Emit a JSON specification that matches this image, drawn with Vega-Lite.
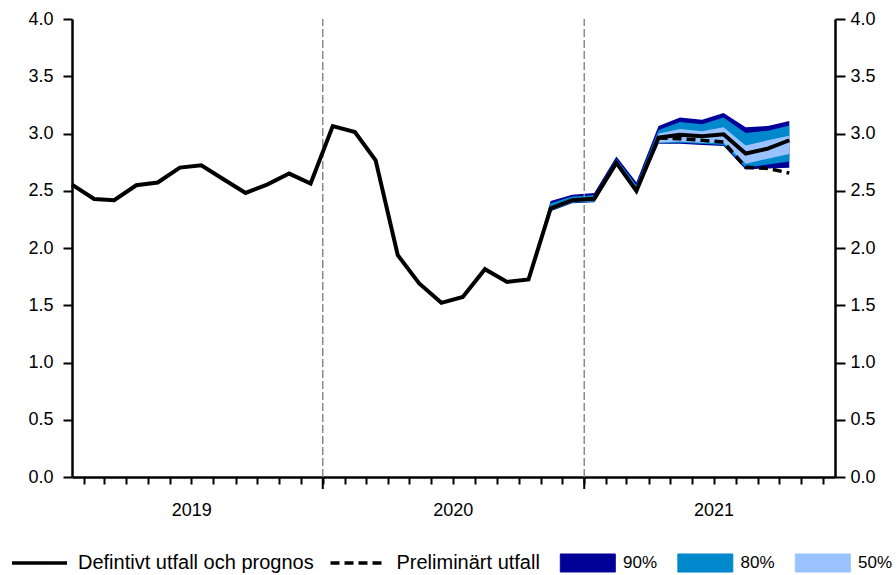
{
  "$schema": "https://vega.github.io/schema/vega-lite/v6.json",
  "width": 763,
  "height": 458,
  "padding": {"left": 10, "top": 10, "right": 0, "bottom": 0},
  "background": "white",
  "config": {
    "font": "Liberation Sans",
    "view": {"stroke": null},
    "axis": {"labelFont": "Liberation Sans", "labelFontSize": 18, "labelColor": "black", "domainColor": "black", "tickColor": "black", "grid": false, "title": null, "domainWidth": 2.5, "tickWidth": 2}
  },
  "datasets": {
    "lines": [
      {"date": "2019-01-15", "value": 2.554, "serie": "Defintivt utfall och prognos"},
      {"date": "2019-02-15", "value": 2.428, "serie": "Defintivt utfall och prognos"},
      {"date": "2019-03-15", "value": 2.417, "serie": "Defintivt utfall och prognos"},
      {"date": "2019-04-15", "value": 2.548, "serie": "Defintivt utfall och prognos"},
      {"date": "2019-05-15", "value": 2.572, "serie": "Defintivt utfall och prognos"},
      {"date": "2019-06-15", "value": 2.702, "serie": "Defintivt utfall och prognos"},
      {"date": "2019-07-15", "value": 2.723, "serie": "Defintivt utfall och prognos"},
      {"date": "2019-08-15", "value": 2.600, "serie": "Defintivt utfall och prognos"},
      {"date": "2019-09-15", "value": 2.481, "serie": "Defintivt utfall och prognos"},
      {"date": "2019-10-15", "value": 2.554, "serie": "Defintivt utfall och prognos"},
      {"date": "2019-11-15", "value": 2.650, "serie": "Defintivt utfall och prognos"},
      {"date": "2019-12-15", "value": 2.563, "serie": "Defintivt utfall och prognos"},
      {"date": "2020-01-15", "value": 3.065, "serie": "Defintivt utfall och prognos"},
      {"date": "2020-02-15", "value": 3.013, "serie": "Defintivt utfall och prognos"},
      {"date": "2020-03-15", "value": 2.766, "serie": "Defintivt utfall och prognos"},
      {"date": "2020-04-15", "value": 1.937, "serie": "Defintivt utfall och prognos"},
      {"date": "2020-05-15", "value": 1.690, "serie": "Defintivt utfall och prognos"},
      {"date": "2020-06-15", "value": 1.521, "serie": "Defintivt utfall och prognos"},
      {"date": "2020-07-15", "value": 1.573, "serie": "Defintivt utfall och prognos"},
      {"date": "2020-08-15", "value": 1.815, "serie": "Defintivt utfall och prognos"},
      {"date": "2020-09-15", "value": 1.704, "serie": "Defintivt utfall och prognos"},
      {"date": "2020-10-15", "value": 1.725, "serie": "Defintivt utfall och prognos"},
      {"date": "2020-11-15", "value": 2.345, "serie": "Defintivt utfall och prognos"},
      {"date": "2020-12-15", "value": 2.417, "serie": "Defintivt utfall och prognos"},
      {"date": "2021-01-15", "value": 2.430, "serie": "Defintivt utfall och prognos"},
      {"date": "2021-02-15", "value": 2.743, "serie": "Defintivt utfall och prognos"},
      {"date": "2021-03-15", "value": 2.498, "serie": "Defintivt utfall och prognos"},
      {"date": "2021-04-15", "value": 2.964, "serie": "Defintivt utfall och prognos"},
      {"date": "2021-05-15", "value": 2.990, "serie": "Defintivt utfall och prognos"},
      {"date": "2021-06-15", "value": 2.976, "serie": "Defintivt utfall och prognos"},
      {"date": "2021-07-15", "value": 2.993, "serie": "Defintivt utfall och prognos"},
      {"date": "2021-08-15", "value": 2.825, "serie": "Defintivt utfall och prognos"},
      {"date": "2021-09-15", "value": 2.868, "serie": "Defintivt utfall och prognos"},
      {"date": "2021-10-15", "value": 2.941, "serie": "Defintivt utfall och prognos"},
      {"date": "2021-04-15", "value": 2.960, "serie": "Preliminärt utfall"},
      {"date": "2021-05-15", "value": 2.955, "serie": "Preliminärt utfall"},
      {"date": "2021-06-15", "value": 2.940, "serie": "Preliminärt utfall"},
      {"date": "2021-07-15", "value": 2.925, "serie": "Preliminärt utfall"},
      {"date": "2021-08-15", "value": 2.705, "serie": "Preliminärt utfall"},
      {"date": "2021-09-15", "value": 2.695, "serie": "Preliminärt utfall"},
      {"date": "2021-10-15", "value": 2.655, "serie": "Preliminärt utfall"}
    ],
    "bands": [
      {"date": "2020-10-15", "serie": "90%", "lo": 1.725, "hi": 1.725},
      {"date": "2020-11-15", "serie": "90%", "lo": 2.32, "hi": 2.41},
      {"date": "2020-12-15", "serie": "90%", "lo": 2.39, "hi": 2.465},
      {"date": "2021-01-15", "serie": "90%", "lo": 2.40, "hi": 2.48},
      {"date": "2021-02-15", "serie": "90%", "lo": 2.72, "hi": 2.80},
      {"date": "2021-03-15", "serie": "90%", "lo": 2.475, "hi": 2.575},
      {"date": "2021-04-15", "serie": "90%", "lo": 2.91, "hi": 3.065},
      {"date": "2021-05-15", "serie": "90%", "lo": 2.91, "hi": 3.14},
      {"date": "2021-06-15", "serie": "90%", "lo": 2.90, "hi": 3.12},
      {"date": "2021-07-15", "serie": "90%", "lo": 2.89, "hi": 3.18},
      {"date": "2021-08-15", "serie": "90%", "lo": 2.685, "hi": 3.055},
      {"date": "2021-09-15", "serie": "90%", "lo": 2.695, "hi": 3.065},
      {"date": "2021-10-15", "serie": "90%", "lo": 2.70, "hi": 3.11},
      {"date": "2020-10-15", "serie": "80%", "lo": 1.725, "hi": 1.725},
      {"date": "2020-11-15", "serie": "80%", "lo": 2.325, "hi": 2.39},
      {"date": "2020-12-15", "serie": "80%", "lo": 2.395, "hi": 2.45},
      {"date": "2021-01-15", "serie": "80%", "lo": 2.405, "hi": 2.46},
      {"date": "2021-02-15", "serie": "80%", "lo": 2.725, "hi": 2.78},
      {"date": "2021-03-15", "serie": "80%", "lo": 2.48, "hi": 2.55},
      {"date": "2021-04-15", "serie": "80%", "lo": 2.915, "hi": 3.03},
      {"date": "2021-05-15", "serie": "80%", "lo": 2.92, "hi": 3.10},
      {"date": "2021-06-15", "serie": "80%", "lo": 2.91, "hi": 3.08},
      {"date": "2021-07-15", "serie": "80%", "lo": 2.90, "hi": 3.14},
      {"date": "2021-08-15", "serie": "80%", "lo": 2.70, "hi": 3.005},
      {"date": "2021-09-15", "serie": "80%", "lo": 2.73, "hi": 3.025},
      {"date": "2021-10-15", "serie": "80%", "lo": 2.755, "hi": 3.07},
      {"date": "2020-10-15", "serie": "50%", "lo": 1.725, "hi": 1.725},
      {"date": "2020-11-15", "serie": "50%", "lo": 2.33, "hi": 2.36},
      {"date": "2020-12-15", "serie": "50%", "lo": 2.40, "hi": 2.43},
      {"date": "2021-01-15", "serie": "50%", "lo": 2.41, "hi": 2.44},
      {"date": "2021-02-15", "serie": "50%", "lo": 2.73, "hi": 2.76},
      {"date": "2021-03-15", "serie": "50%", "lo": 2.485, "hi": 2.52},
      {"date": "2021-04-15", "serie": "50%", "lo": 2.92, "hi": 3.0},
      {"date": "2021-05-15", "serie": "50%", "lo": 2.93, "hi": 3.04},
      {"date": "2021-06-15", "serie": "50%", "lo": 2.92, "hi": 3.02},
      {"date": "2021-07-15", "serie": "50%", "lo": 2.92, "hi": 3.055},
      {"date": "2021-08-15", "serie": "50%", "lo": 2.735, "hi": 2.895},
      {"date": "2021-09-15", "serie": "50%", "lo": 2.78, "hi": 2.94},
      {"date": "2021-10-15", "serie": "50%", "lo": 2.82, "hi": 2.98}
    ],
    "years": [
      {"date": "2020-01-01"},
      {"date": "2021-01-01"}
    ]
  },
  "encoding": {
    "x": {
      "field": "date",
      "type": "temporal",
      "scale": {"type": "utc", "domain": [{"year": 2019, "month": 1, "date": 15, "utc": true}, {"year": 2021, "month": 12, "date": 18, "utc": true}]},
      "axis": {
        "title": null,
        "tickCount": {"interval": "month", "step": 1},
        "labelExpr": "utcmonth(datum.value) == 6 ? utcFormat(datum.value, '%Y') : ''",
        "labelOverlap": false,
        "labelFlush": false,
        "labelBound": false,
        "tickSize": 7,
        "labelPadding": 17,
        "grid": false
      }
    }
  },
  "layer": [
    {
      "data": {"name": "bands"},
      "transform": [{"filter": "datum.serie === '90%'"}],
      "mark": {"type": "area", "opacity": 1},
      "encoding": {
        "y": {"field": "lo", "type": "quantitative", "stack": null, "scale": {"domain": [0, 4], "nice": false, "zero": false},
          "axis": {"orient": "left", "values": [0, 0.5, 1, 1.5, 2, 2.5, 3, 3.5, 4], "format": ".1f", "tickSize": 9, "labelPadding": 10, "title": null}},
        "y2": {"field": "hi"},
        "color": {
          "field": "serie", "type": "nominal",
          "scale": {"domain": ["Defintivt utfall och prognos", "Preliminärt utfall", "90%", "80%", "50%"], "range": ["#000000", "#000000", "#000099", "#0088cc", "#99c2ff"]},
          "legend": {
            "orient": "none", "legendX": -62, "legendY": 534,
            "direction": "horizontal", "columns": 5, "title": null,
            "symbolType": "stroke", "symbolSize": 3025, "clipHeight": 20,
            "labelFontSize": 20, "labelFont": "Liberation Sans", "labelColor": "black",
            "labelOffset": 9, "labelLimit": 400, "columnPadding": 14.5,
            "symbolOpacity": 1, "symbolStrokeWidth": 3.5,
            "encode": {
              "symbols": {"update": {
                "shape": {"signal": "(indexof(['90%','80%','50%'], datum.value) >= 0 ? 'M-0.88,-0.33H1.12V0.33H-0.88Z' : 'stroke')"},
                "fill": {"signal": "(datum.value === '90%' ? '#000099' : datum.value === '80%' ? '#0088cc' : datum.value === '50%' ? '#99c2ff' : 'transparent')"},
                "stroke": {"value": "black"},
                "strokeWidth": {"signal": "(indexof(['90%','80%','50%'], datum.value) >= 0 ? 1 : 3.5)"},
                "strokeDash": {"signal": "(datum.value === 'Preliminärt utfall' ? [9, 5] : [1, 0])"},
                "opacity": {"value": 1}
              }},
              "labels": {"update": {
                "fontSize": {"signal": "(indexof(['90%','80%','50%'], datum.value) >= 0 ? 17 : 20)"}
              }}
            }
          }
        }
      }
    },
    {
      "data": {"name": "bands"},
      "transform": [{"filter": "datum.serie === '80%'"}],
      "mark": {"type": "area", "opacity": 1},
      "encoding": {
        "y": {"field": "lo", "type": "quantitative", "stack": null, "axis": null},
        "y2": {"field": "hi"},
        "color": {"field": "serie", "type": "nominal"}
      }
    },
    {
      "data": {"name": "bands"},
      "transform": [{"filter": "datum.serie === '50%'"}],
      "mark": {"type": "area", "opacity": 1},
      "encoding": {
        "y": {"field": "lo", "type": "quantitative", "stack": null, "axis": null},
        "y2": {"field": "hi"},
        "color": {"field": "serie", "type": "nominal"}
      }
    },
    {
      "data": {"name": "years"},
      "mark": {"type": "rule", "color": "#8c8c8c", "strokeWidth": 1.5, "strokeDash": [8, 3]},
      "encoding": {
        "y": {"datum": 0, "type": "quantitative", "axis": null},
        "y2": {"datum": 4}
      }
    },
    {
      "data": {"name": "years"},
      "mark": {"type": "rule", "color": "black", "strokeWidth": 2},
      "encoding": {
        "y": {"datum": -0.105, "type": "quantitative", "axis": null},
        "y2": {"datum": 0}
      }
    },
    {
      "data": {"name": "lines"},
      "transform": [{"filter": "datum.serie === 'Preliminärt utfall'"}],
      "mark": {"type": "line", "strokeWidth": 3.5, "strokeDash": [9, 5]},
      "encoding": {
        "y": {"field": "value", "type": "quantitative",
          "axis": {"orient": "right", "values": [0, 0.5, 1, 1.5, 2, 2.5, 3, 3.5, 4], "format": ".1f", "tickSize": 10, "labelPadding": 5, "title": null}},
        "color": {"field": "serie", "type": "nominal"}
      }
    },
    {
      "data": {"name": "lines"},
      "transform": [{"filter": "datum.serie === 'Defintivt utfall och prognos'"}],
      "mark": {"type": "line", "strokeWidth": 4},
      "encoding": {
        "y": {"field": "value", "type": "quantitative", "axis": null},
        "color": {"field": "serie", "type": "nominal"}
      }
    }
  ],
  "resolve": {"axis": {"y": "independent"}}
}
